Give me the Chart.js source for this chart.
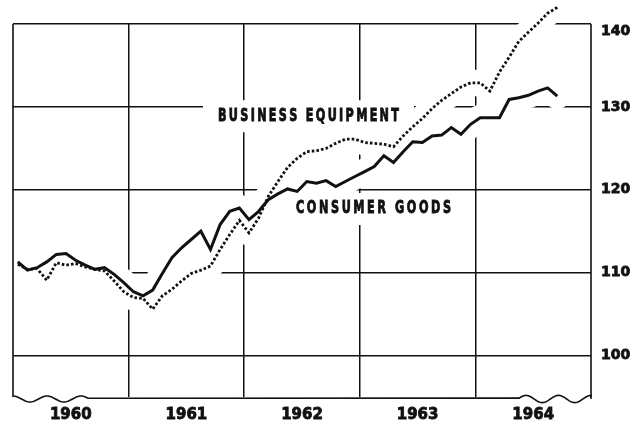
<!DOCTYPE html>
<html><head><meta charset="utf-8">
<script src="https://cdn.jsdelivr.net/npm/chart.js@4.4.1/dist/chart.umd.min.js"></script>
<style>html,body{margin:0;padding:0;background:#fff;}</style>
</head><body>
<canvas id="c" width="636" height="425"></canvas>
<script>
// ---- data ----
const startYear = 1960;
const yearLabels = ['1960', '1961', '1962', '1963', '1964'];
const yTickValues = [100, 110, 120, 130, 140];
const consumerGoods = [
  111.3, 110.3, 110.6, 111.3, 112.2, 112.3, 111.5, 110.9, 110.4, 110.6,
  109.8, 108.8, 107.7, 107.2, 107.9, 109.9, 111.8, 113.0, 114.0, 115.0,
  112.8, 115.8, 117.4, 117.8, 116.4, 117.4, 118.8, 119.5, 120.1, 119.8,
  121.0, 120.8, 121.1, 120.4, 121.0, 121.6, 122.2, 122.8, 124.1, 123.3,
  124.6, 125.8, 125.7, 126.5, 126.6, 127.5, 126.7, 127.9, 128.7, 128.7,
  128.7, 130.9, 131.1, 131.4, 131.9, 132.3, 131.3
];
const businessEquipment = [
  111.0, 110.4, 110.5, 109.1, 111.2, 110.9, 111.1, 110.7, 110.4, 110.2,
  109.0, 107.7, 107.0, 106.9, 105.6, 107.2, 108.0, 109.0, 109.9, 110.3,
  110.8, 112.8, 114.6, 116.3, 114.8, 116.6, 119.2, 121.0, 122.7, 123.8,
  124.6, 124.7, 125.0, 125.6, 126.1, 126.1, 125.7, 125.6, 125.5, 125.2,
  126.5, 127.6, 128.6, 129.8, 130.8, 131.6, 132.4, 132.9, 132.9, 131.9,
  134.2, 136.0, 137.9, 139.0, 140.1, 141.3, 142.0
];
const seriesNames = ['BUSINESS EQUIPMENT', 'CONSUMER GOODS'];

// ---- helpers ----
const monthX = i => startYear + (i + 0.5) / 12;
const toPoints = arr => arr.map((v, i) => ({ x: monthX(i), y: v }));
const INK = '#111';
const BOLDSANS = "'DejaVu Sans','Liberation Sans',sans-serif";

// label anchors in data units (center), with target text widths
const labelSpecs = [
  { text: seriesNames[0], x: 1962.556, y: 128.87, w: 181 },
  { text: seriesNames[1], x: 1963.119, y: 117.68, w: 155 }
];

function drawCondensed(ctx, text, left, cy, totalW, sx) {
  const chars = [...text];
  const widths = chars.map(ch => ctx.measureText(ch).width * sx);
  const sum = widths.reduce((a, b) => a + b, 0);
  const gap = (totalW - sum) / (chars.length - 1);
  let px = left;
  chars.forEach((ch, k) => {
    ctx.save();
    ctx.translate(px, cy);
    ctx.scale(sx, 1);
    ctx.fillText(ch, 0, 0);
    ctx.lineWidth = 0.9;
    ctx.strokeText(ch, 0, 0);
    ctx.restore();
    px += widths[k] + gap;
  });
}

const decor = {
  id: 'decor',
  beforeDraw(chart) { chart.ctx.letterSpacing = '0px'; },
  beforeDatasetsDraw(chart) {
    const { ctx, scales: { x, y } } = chart;
    ctx.save();
    ctx.fillStyle = '#fff';
    labelSpecs.forEach(s => {
      const cx = x.getPixelForValue(s.x), cy = y.getPixelForValue(s.y);
      ctx.fillRect(cx - s.w / 2 - 15, cy - 16, s.w + 30, 32);
    });
    ctx.restore();
  },
  afterDatasetsDraw(chart) {
    const { ctx, chartArea: a, scales: { x, y } } = chart;
    ctx.save();
    // series labels (bold, condensed, widely spaced)
    ctx.fillStyle = INK;
    ctx.strokeStyle = INK;
    ctx.font = `bold 17px ${BOLDSANS}`;
    ctx.textBaseline = 'middle';
    ctx.textAlign = 'left';
    labelSpecs.forEach(s => {
      const cx = x.getPixelForValue(s.x), cy = y.getPixelForValue(s.y);
      drawCondensed(ctx, s.text, cx - s.w / 2, cy, s.w, 0.66);
    });
    // frame: left, right, wavy bottom
    ctx.lineWidth = 1.6;
    ctx.lineJoin = 'round';
    const L = a.left, R = a.right, T = a.top, B = a.bottom + 1;
    ctx.beginPath();
    ctx.moveTo(L, T);
    ctx.lineTo(L, B - 1.5);
    for (let px = L; px <= L + 75; px += 1) {
      ctx.lineTo(px, B + 1 - 3 * Math.cos(2 * Math.PI * (px - L) / 34));
    }
    ctx.lineTo(R - 72, B);
    for (let px = R - 72; px <= R; px += 1) {
      ctx.lineTo(px, B + 1 - 3.6 * Math.cos(2 * Math.PI * (px - (R - 65)) / 32.5));
    }
    ctx.lineTo(R, B - 1);
    ctx.stroke();
    ctx.beginPath();
    ctx.moveTo(R, T);
    ctx.lineTo(R, B + 1);
    ctx.stroke();
    ctx.restore();
  }
};

const xTicks = [];
yearLabels.forEach((yl, k) => {
  xTicks.push({ value: +yl + 0.5 });
  if (k < yearLabels.length - 1) xTicks.push({ value: +yl + 1 });
});

const halo = (data) => ({
  data: toPoints(data), borderColor: '#fff', borderWidth: 26, pointRadius: 0,
  borderJoinStyle: 'round', borderCapStyle: 'round', clip: false, order: 5, tension: 0
});

new Chart(document.getElementById('c'), {
  type: 'line',
  data: {
    datasets: [
      halo(businessEquipment),
      halo(consumerGoods),
      {
        label: seriesNames[0], data: toPoints(businessEquipment), borderColor: INK,
        borderWidth: 2.8, borderDash: [2.6, 2.1], pointRadius: 0, clip: false, order: 1, tension: 0
      },
      {
        label: seriesNames[1], data: toPoints(consumerGoods), borderColor: INK,
        borderWidth: 3, pointRadius: 0, clip: false, order: 0, tension: 0,
        borderJoinStyle: 'miter'
      }
    ]
  },
  options: {
    responsive: false, animation: false, devicePixelRatio: 1,
    layout: { padding: { left: 13, top: 24, right: 0, bottom: 0 } },
    plugins: { legend: { display: false }, tooltip: { enabled: false } },
    scales: {
      x: {
        type: 'linear', position: 'bottom', min: 1960, max: 1965,
        afterBuildTicks: s => { s.ticks = xTicks.map(t => ({ value: t.value })); },
        afterFit: s => { s.height = 28; },
        grid: {
          color: c => (c.tick && Number.isInteger(c.tick.value)) ? INK : 'rgba(0,0,0,0)',
          lineWidth: 1.5, drawTicks: false
        },
        border: { display: false },
        ticks: {
          autoSkip: false, maxRotation: 0, padding: 9, color: INK,
          textStrokeColor: INK, textStrokeWidth: 0.8,
          font: { family: BOLDSANS, size: 15, weight: 'bold' },
          callback: v => Number.isInteger(v) ? '' : String(Math.floor(v))
        }
      },
      y: {
        type: 'linear', position: 'right', min: 95, max: 140,
        afterBuildTicks: s => { s.ticks = yTickValues.map(v => ({ value: v })); },
        afterFit: s => { s.width = 45; },
        grid: { color: INK, lineWidth: 1.5, drawTicks: false },
        border: { display: false },
        ticks: {
          padding: 10, color: INK,
          textStrokeColor: INK, textStrokeWidth: 0.8,
          font: { family: BOLDSANS, size: 14, weight: 'bold', lineHeight: 1.0 },
          callback: v => v === 140 ? ['', String(v)] : String(v)
        }
      }
    }
  },
  plugins: [decor]
});
</script>
</body></html>
